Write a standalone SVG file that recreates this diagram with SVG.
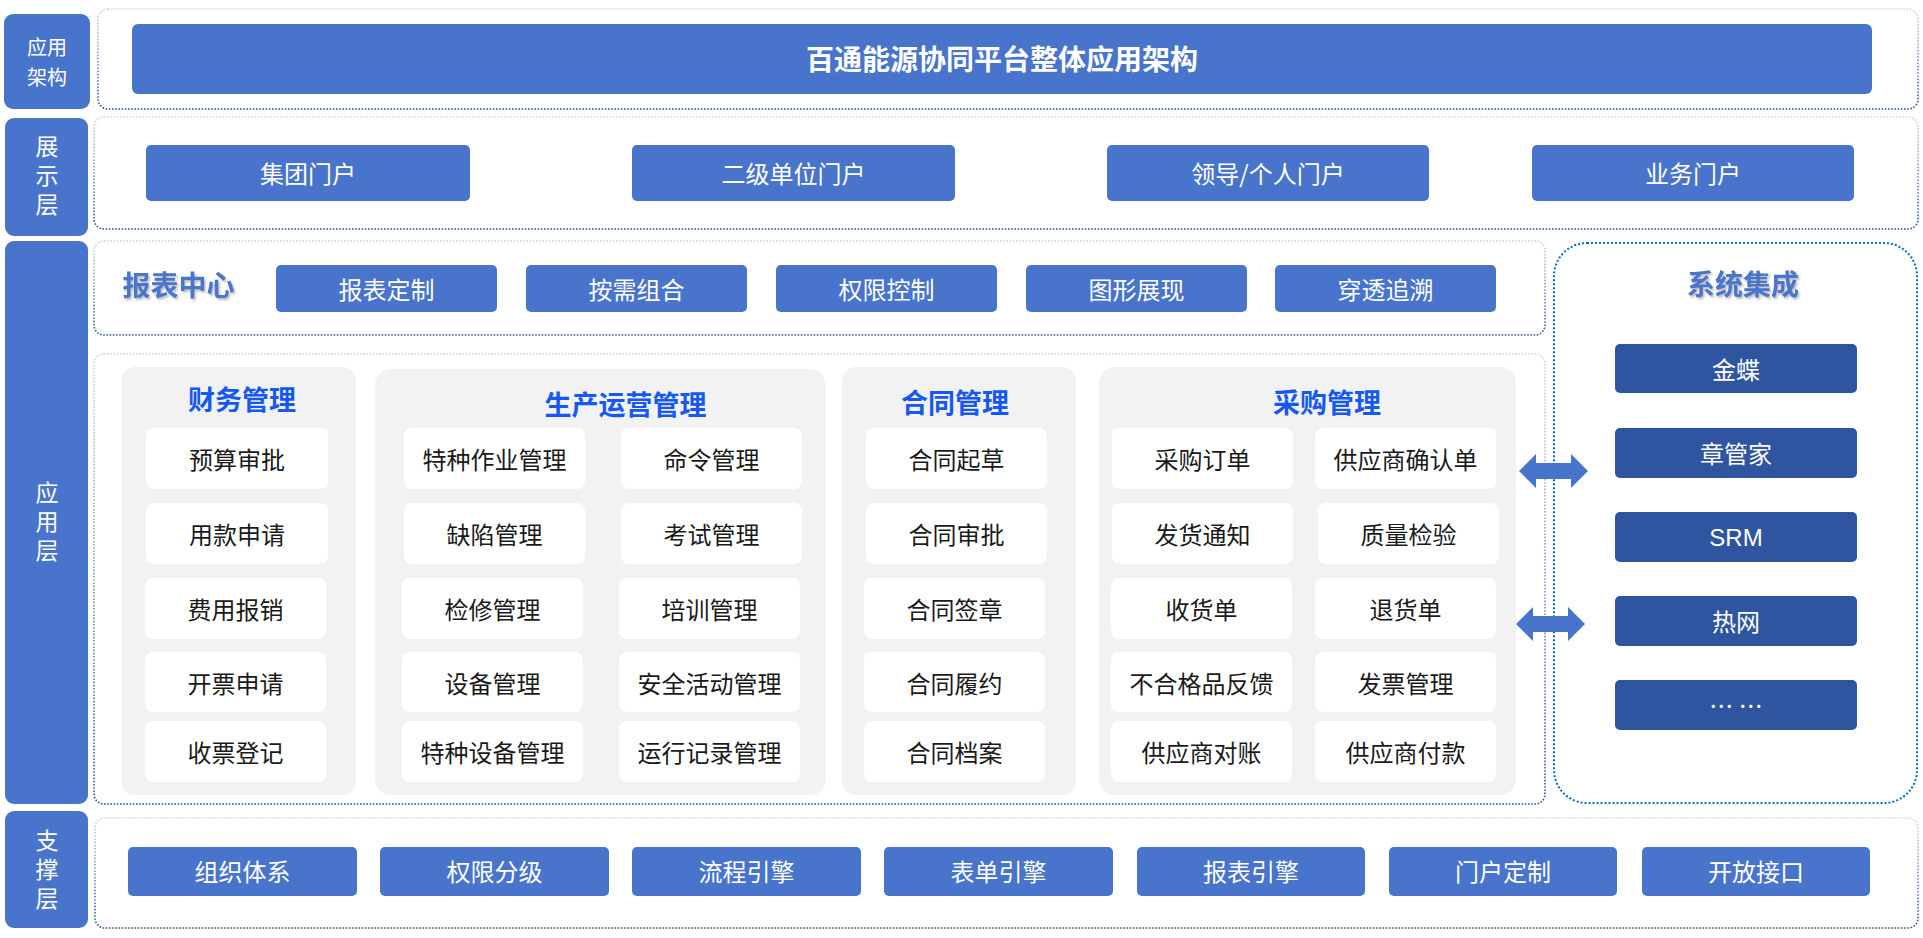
<svg xmlns="http://www.w3.org/2000/svg" width="1923" height="938" viewBox="0 0 1923 938">
<defs>
<linearGradient id="dotg" x1="0" y1="0" x2="0" y2="1">
<stop offset="0" stop-color="#CCD9F0"/>
<stop offset="1" stop-color="#2F5597"/>
</linearGradient>
<filter id="sh" x="-10%" y="-30%" width="130%" height="170%">
<feDropShadow dx="1.5" dy="2" stdDeviation="1" flood-color="#7f7f7f" flood-opacity="0.55"/>
</filter>
</defs>
<style>
text{font-family:"Noto Sans CJK SC","Microsoft YaHei",sans-serif;text-anchor:middle;dominant-baseline:central}
.lab{fill:#4874CB}
.labt{fill:#fff;font-size:23px}
.vt{writing-mode:vertical-rl;letter-spacing:6px}
.cont{fill:none;stroke:url(#dotg);stroke-width:1.6;stroke-dasharray:1.6 1.6}
.bb{fill:#4874CB}
.bt{fill:#fff;font-size:24px}
.db{fill:#2F54A0}
.panel{fill:#F2F2F2}
.item{fill:#fff}
.it{fill:#1a1a1a;font-size:24px}
.pt{fill:#1558F2;font-size:27px;font-weight:bold}
.st{fill:#4874CB;font-size:28px;font-weight:bold;filter:url(#sh)}
.arr{fill:#4874CB}
</style>
<rect width="1923" height="938" fill="#fff"/>

<g id="labels">
<g id="lab-arch"><rect class="lab" x="4" y="14" width="86" height="95" rx="9"/><text class="labt" style="font-size:20px" x="47" y="46">应用</text><text class="labt" style="font-size:20px" x="47" y="76">架构</text></g>
<g id="lab-show"><rect class="lab" x="5" y="118" width="83" height="118" rx="9"/><text class="labt vt" x="47" y="178.5">展示层</text></g>
<g id="lab-app"><rect class="lab" x="5" y="241" width="83" height="563" rx="9"/><text class="labt vt" x="47" y="524">应用层</text></g>
<g id="lab-sup"><rect class="lab" x="5" y="811" width="83" height="117" rx="9"/><text class="labt vt" x="47" y="872.5">支撑层</text></g>
</g>

<g id="containers">
<rect class="cont" x="98" y="9" width="1820" height="100" rx="10"/>
<rect class="cont" x="94" y="117" width="1824" height="112" rx="10"/>
<rect class="cont" x="94" y="241" width="1451" height="94" rx="10"/>
<rect class="cont" x="94" y="354" width="1451" height="450" rx="10"/>
<rect class="cont" x="95" y="818" width="1823" height="110" rx="10"/>
<rect x="1554" y="243" width="363" height="560" rx="33" fill="none" stroke="#0070C0" stroke-width="2" stroke-dasharray="2 2"/>
</g>

<g id="title"><rect class="bb" x="132" y="24" width="1740" height="70" rx="6"/><text x="1002" y="58" style="fill:#fff;font-size:28px;font-weight:bold">百通能源协同平台整体应用架构</text></g>

<g id="portals">
<g id="p1"><rect class="bb" x="146" y="145" width="324" height="56" rx="5"/><text class="bt" x="308" y="172">集团门户</text></g>
<g id="p2"><rect class="bb" x="632" y="145" width="323" height="56" rx="5"/><text class="bt" x="793.5" y="172">二级单位门户</text></g>
<g id="p3"><rect class="bb" x="1107" y="145" width="322" height="56" rx="5"/><text class="bt" x="1268" y="172">领导/个人门户</text></g>
<g id="p4"><rect class="bb" x="1532" y="145" width="322" height="56" rx="5"/><text class="bt" x="1693" y="172">业务门户</text></g>
</g>

<g id="report">
<text class="st" x="178.5" y="284">报表中心</text>
<g id="r1"><rect class="bb" x="276" y="265" width="221" height="47" rx="5"/><text class="bt" x="386.5" y="288">报表定制</text></g>
<g id="r2"><rect class="bb" x="526" y="265" width="221" height="47" rx="5"/><text class="bt" x="636.5" y="288">按需组合</text></g>
<g id="r3"><rect class="bb" x="776" y="265" width="221" height="47" rx="5"/><text class="bt" x="886.5" y="288">权限控制</text></g>
<g id="r4"><rect class="bb" x="1026" y="265" width="221" height="47" rx="5"/><text class="bt" x="1136.5" y="288">图形展现</text></g>
<g id="r5"><rect class="bb" x="1275" y="265" width="221" height="47" rx="5"/><text class="bt" x="1385.5" y="288">穿透追溯</text></g>
</g>

<g id="finance">
<rect class="panel" x="121" y="367" width="235" height="428" rx="14"/>
<text class="pt" x="242" y="398">财务管理</text>
<rect class="item" x="146" y="428" width="182" height="61" rx="8"/><text class="it" x="237" y="458">预算审批</text>
<rect class="item" x="146" y="503" width="182" height="61" rx="8"/><text class="it" x="237" y="533">用款申请</text>
<rect class="item" x="145" y="578" width="181" height="61" rx="8"/><text class="it" x="235.5" y="608">费用报销</text>
<rect class="item" x="145" y="652" width="181" height="60" rx="8"/><text class="it" x="235.5" y="682">开票申请</text>
<rect class="item" x="145" y="721" width="181" height="61" rx="8"/><text class="it" x="235.5" y="751">收票登记</text>
</g>

<g id="production">
<rect class="panel" x="375" y="369" width="451" height="426" rx="16"/>
<text class="pt" x="625.5" y="403">生产运营管理</text>
<rect class="item" x="404" y="428" width="181" height="61" rx="8"/><text class="it" x="494.5" y="458">特种作业管理</text>
<rect class="item" x="621" y="428" width="181" height="61" rx="8"/><text class="it" x="711.5" y="458">命令管理</text>
<rect class="item" x="404" y="503" width="181" height="61" rx="8"/><text class="it" x="494.5" y="533">缺陷管理</text>
<rect class="item" x="621" y="503" width="181" height="61" rx="8"/><text class="it" x="711.5" y="533">考试管理</text>
<rect class="item" x="402" y="578" width="181" height="61" rx="8"/><text class="it" x="492.5" y="608">检修管理</text>
<rect class="item" x="619" y="578" width="181" height="61" rx="8"/><text class="it" x="709.5" y="608">培训管理</text>
<rect class="item" x="402" y="652" width="181" height="60" rx="8"/><text class="it" x="492.5" y="682">设备管理</text>
<rect class="item" x="619" y="652" width="181" height="60" rx="8"/><text class="it" x="709.5" y="682">安全活动管理</text>
<rect class="item" x="402" y="721" width="181" height="61" rx="8"/><text class="it" x="492.5" y="751">特种设备管理</text>
<rect class="item" x="619" y="721" width="181" height="61" rx="8"/><text class="it" x="709.5" y="751">运行记录管理</text>
</g>

<g id="contract">
<rect class="panel" x="842" y="367" width="234" height="428" rx="14"/>
<text class="pt" x="955" y="401">合同管理</text>
<rect class="item" x="866" y="428" width="181" height="61" rx="8"/><text class="it" x="956.5" y="458">合同起草</text>
<rect class="item" x="866" y="503" width="181" height="61" rx="8"/><text class="it" x="956.5" y="533">合同审批</text>
<rect class="item" x="864" y="578" width="181" height="61" rx="8"/><text class="it" x="954.5" y="608">合同签章</text>
<rect class="item" x="864" y="652" width="181" height="60" rx="8"/><text class="it" x="954.5" y="682">合同履约</text>
<rect class="item" x="864" y="721" width="181" height="61" rx="8"/><text class="it" x="954.5" y="751">合同档案</text>
</g>

<g id="purchase">
<rect class="panel" x="1099" y="367" width="417" height="428" rx="16"/>
<text class="pt" x="1327" y="401">采购管理</text>
<rect class="item" x="1112" y="428" width="181" height="61" rx="8"/><text class="it" x="1202.5" y="458">采购订单</text>
<rect class="item" x="1315" y="428" width="181" height="61" rx="8"/><text class="it" x="1405.5" y="458">供应商确认单</text>
<rect class="item" x="1112" y="503" width="181" height="61" rx="8"/><text class="it" x="1202.5" y="533">发货通知</text>
<rect class="item" x="1318" y="503" width="181" height="61" rx="8"/><text class="it" x="1408.5" y="533">质量检验</text>
<rect class="item" x="1111" y="578" width="181" height="61" rx="8"/><text class="it" x="1201.5" y="608">收货单</text>
<rect class="item" x="1315" y="578" width="181" height="61" rx="8"/><text class="it" x="1405.5" y="608">退货单</text>
<rect class="item" x="1111" y="652" width="181" height="60" rx="8"/><text class="it" x="1201.5" y="682">不合格品反馈</text>
<rect class="item" x="1315" y="652" width="181" height="60" rx="8"/><text class="it" x="1405.5" y="682">发票管理</text>
<rect class="item" x="1111" y="721" width="181" height="61" rx="8"/><text class="it" x="1201.5" y="751">供应商对账</text>
<rect class="item" x="1315" y="721" width="181" height="61" rx="8"/><text class="it" x="1405.5" y="751">供应商付款</text>
</g>

<g id="integration">
<text class="st" x="1743" y="283">系统集成</text>
<g id="s1"><rect class="db" x="1615" y="344" width="242" height="49" rx="5"/><text class="bt" x="1736" y="368">金蝶</text></g>
<g id="s2"><rect class="db" x="1615" y="428" width="242" height="50" rx="5"/><text class="bt" x="1736" y="452">章管家</text></g>
<g id="s3"><rect class="db" x="1615" y="512" width="242" height="50" rx="5"/><text class="bt" x="1736" y="537" style="font-family:'Liberation Sans',sans-serif">SRM</text></g>
<g id="s4"><rect class="db" x="1615" y="596" width="242" height="50" rx="5"/><text class="bt" x="1736" y="620">热网</text></g>
<g id="s5"><rect class="db" x="1615" y="680" width="242" height="50" rx="5"/><text class="bt" x="1736" y="704">… …</text></g>
</g>

<g id="connectors">
<polygon class="arr" points="1519,471 1536,454 1536,463 1571,463 1571,454 1588,471 1571,488 1571,479 1536,479 1536,488"/>
<polygon class="arr" points="1516,624 1533,607 1533,616 1568,616 1568,607 1585,624 1568,641 1568,632 1533,632 1533,641"/>
</g>

<g id="support">
<g id="b1"><rect class="bb" x="128" y="847" width="229" height="49" rx="5"/><text class="bt" x="242.5" y="870">组织体系</text></g>
<g id="b2"><rect class="bb" x="380" y="847" width="229" height="49" rx="5"/><text class="bt" x="494.5" y="870">权限分级</text></g>
<g id="b3"><rect class="bb" x="632" y="847" width="229" height="49" rx="5"/><text class="bt" x="746.5" y="870">流程引擎</text></g>
<g id="b4"><rect class="bb" x="884" y="847" width="229" height="49" rx="5"/><text class="bt" x="998.5" y="870">表单引擎</text></g>
<g id="b5"><rect class="bb" x="1137" y="847" width="228" height="49" rx="5"/><text class="bt" x="1251" y="870">报表引擎</text></g>
<g id="b6"><rect class="bb" x="1389" y="847" width="228" height="49" rx="5"/><text class="bt" x="1503" y="870">门户定制</text></g>
<g id="b7"><rect class="bb" x="1642" y="847" width="228" height="49" rx="5"/><text class="bt" x="1756" y="870">开放接口</text></g>
</g>
</svg>
